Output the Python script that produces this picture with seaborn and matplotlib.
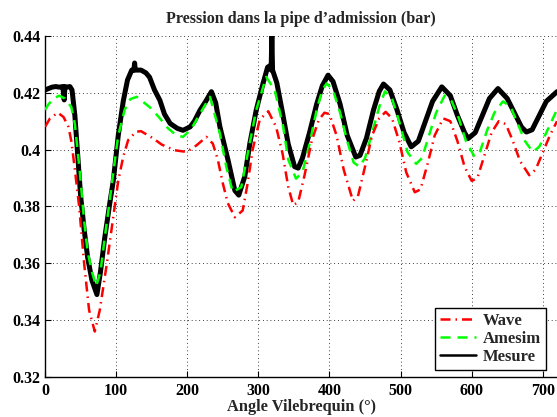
import matplotlib
matplotlib.use("Agg")
import matplotlib.pyplot as plt
import seaborn as sns
import pandas as pd

# ---- data ----
wave_x = [0, 7, 18, 26, 33, 37, 42, 48, 55, 62, 70, 77, 87, 98, 103, 110, 117, 128, 135,
          152, 164, 182, 199, 213, 227, 236, 243, 250, 257, 267, 278, 285, 292, 302, 314,
          325, 334, 342, 349, 356, 365, 375, 385, 393, 400, 410, 420, 433, 440, 450, 460,
          470, 479, 488, 498, 508, 520, 528, 538, 548, 560, 570, 580, 590, 600, 608, 618,
          628, 638, 648, 658, 668, 681, 690, 700, 710, 720]
wave_y = [0.408, 0.411, 0.413, 0.4115, 0.408, 0.403, 0.393, 0.380, 0.360, 0.3435, 0.336,
          0.3435, 0.360, 0.380, 0.389, 0.3975, 0.4034, 0.4063, 0.4065, 0.404, 0.4018,
          0.3998, 0.3992, 0.4015, 0.4045, 0.4021, 0.3965, 0.3882, 0.3812, 0.3762, 0.3786,
          0.3882, 0.400, 0.4106, 0.4135, 0.408, 0.3987, 0.387, 0.3805, 0.3815, 0.391,
          0.403, 0.4105, 0.413, 0.4125, 0.405, 0.393, 0.382, 0.3835, 0.394, 0.405, 0.411,
          0.4133, 0.411, 0.403, 0.392, 0.385, 0.386, 0.395, 0.405, 0.411, 0.410, 0.403,
          0.394, 0.389, 0.390, 0.398, 0.406, 0.410, 0.409, 0.403, 0.396, 0.391, 0.393,
          0.399, 0.405, 0.410]

amesim_x = [0, 5, 12, 20, 28, 37, 42, 49, 55, 60, 66, 72, 78, 84, 91, 96, 103, 112, 120,
            129, 147, 160, 173, 185, 194, 205, 218, 232, 246, 255, 264, 276, 286, 297, 311,
            323, 335, 342, 353, 362, 372, 382, 390, 396, 405, 415, 425, 434, 442, 450, 460,
            470, 478, 488, 498, 510, 522, 530, 540, 550, 562, 572, 582, 592, 604, 612, 622,
            632, 644, 655, 665, 675, 686, 695, 705, 720]
amesim_y = [0.414, 0.416, 0.418, 0.419, 0.418, 0.415, 0.409, 0.392, 0.375, 0.364, 0.357,
            0.352, 0.357, 0.369, 0.382, 0.392, 0.405, 0.414, 0.4178, 0.4186, 0.415, 0.4115,
            0.4075, 0.405, 0.4045, 0.407, 0.4127, 0.4186, 0.4056, 0.3939, 0.3851, 0.3868,
            0.3998, 0.4139, 0.4256, 0.421, 0.408, 0.3965, 0.3898, 0.392, 0.402, 0.414,
            0.421, 0.4233, 0.421, 0.413, 0.403, 0.3955, 0.394, 0.397, 0.406, 0.415, 0.4205,
            0.418, 0.410, 0.399, 0.395, 0.397, 0.405, 0.413, 0.419, 0.417, 0.411, 0.403,
            0.3975, 0.3995, 0.407, 0.413, 0.417, 0.415, 0.409, 0.403, 0.3992, 0.401,
            0.406, 0.4141]

mesure_x = [0, 5, 10, 15, 20, 25, 27, 28, 30, 35, 38, 42, 46, 50, 55, 60, 66, 73, 78, 84,
            91, 96, 103, 110, 116, 122, 125, 126, 127, 135, 142, 147, 154, 161.5, 168, 176,
            186, 194, 204, 210, 218, 226, 234, 240, 246, 257.5, 267, 272.5, 281, 288, 297,
            306.6, 313, 316, 318, 319, 320, 326, 334, 342, 351, 356, 362, 372, 382, 390,
            398, 405, 415, 425, 437, 443, 452, 462, 470, 476, 485, 495, 505, 515, 525, 535,
            545, 558, 570, 580, 590, 595, 605, 615, 625, 637, 650, 660, 670, 677, 685, 695,
            705, 720]
mesure_y = [0.421, 0.4215, 0.422, 0.4222, 0.422, 0.4222, 0.4175, 0.4222, 0.422, 0.4222,
            0.421, 0.412, 0.398, 0.384, 0.372, 0.362, 0.354, 0.349, 0.357, 0.369, 0.381,
            0.389, 0.405, 0.417, 0.4245, 0.428, 0.428, 0.4305, 0.428, 0.428, 0.427, 0.4255,
            0.421, 0.4174, 0.4125, 0.4092, 0.4075, 0.4068, 0.408, 0.410, 0.4139, 0.417,
            0.4204, 0.4165, 0.408, 0.3962, 0.3856, 0.384, 0.3906, 0.4021, 0.4139, 0.4233,
            0.429, 0.4295, 0.428, 0.4405, 0.428, 0.4235, 0.413, 0.402, 0.394, 0.3935, 0.397,
            0.406, 0.416, 0.4225, 0.4262, 0.424, 0.416, 0.405, 0.3974, 0.398, 0.404, 0.414,
            0.4205, 0.4231, 0.421, 0.414, 0.406, 0.401, 0.403, 0.410, 0.417, 0.4221, 0.419,
            0.412, 0.406, 0.4039, 0.406, 0.412, 0.418, 0.4215, 0.418, 0.413, 0.408, 0.4062,
            0.407, 0.412, 0.417, 0.4204]

series_names = ["Wave", "Amesim", "Mesure"]
x_ticks = [0, 100, 200, 300, 400, 500, 600, 700]
y_ticks = [0.32, 0.34, 0.36, 0.38, 0.40, 0.42, 0.44]
y_tick_labels = ["0.32", "0.34", "0.36", "0.38", "0.4", "0.42", "0.44"]
title = "Pression dans la pipe d\u2019admission (bar)"
xlabel = "Angle Vilebrequin (\u00b0)"

# ---- plot ----
sns.set_theme(style="white")
plt.rcParams["font.family"] = ["Liberation Serif", "DejaVu Serif"]
plt.rcParams["font.weight"] = "bold"

fig = plt.figure(figsize=(5.57, 4.17), dpi=100)
ax = fig.add_axes([0.0808, 0.096, 0.9192, 0.8177])

df_m = pd.DataFrame({"x": mesure_x, "y": mesure_y})
df_a = pd.DataFrame({"x": amesim_x, "y": amesim_y})
df_w = pd.DataFrame({"x": wave_x, "y": wave_y})

sns.lineplot(data=df_m, x="x", y="y", ax=ax, color="black", lw=3.6,
             sort=False, estimator=None, label=series_names[2], zorder=2)
sns.lineplot(data=df_a, x="x", y="y", ax=ax, color=(0, 1, 0), lw=1.8,
             sort=False, estimator=None, label=series_names[1], zorder=3,
             dashes=(4, 2.8))
sns.lineplot(data=df_w, x="x", y="y", ax=ax, color=(1, 0, 0), lw=1.8,
             sort=False, estimator=None, label=series_names[0], zorder=4,
             dashes=(4, 2, 0.6, 2))

ax.set_xlim(0, 720)
ax.set_ylim(0.32, 0.44)
ax.set_xticks(x_ticks)
ax.set_yticks(y_ticks)
ax.set_yticklabels(y_tick_labels)
ax.grid(True, color="black", linestyle=(0, (1, 3.5)), linewidth=0.6)
ax.tick_params(direction="in", length=4, width=0.8, colors="black",
               labelsize=11.5, left=True, bottom=True)
ax.tick_params(axis="x", pad=4)
ax.tick_params(axis="y", pad=3)
for lab in ax.get_xticklabels() + ax.get_yticklabels():
    lab.set_fontweight("bold")
for side in ["top", "right"]:
    ax.spines[side].set_visible(False)
for side in ["left", "bottom"]:
    ax.spines[side].set_color("black")
    ax.spines[side].set_linewidth(1.0)

ax.set_title(title, fontsize=11.6, fontweight="bold", pad=9)
ax.set_xlabel(xlabel, fontsize=11.8, fontweight="bold", labelpad=0)
ax.set_ylabel("")

handles, labels = ax.get_legend_handles_labels()
order = [labels.index(n) for n in series_names]
leg = ax.legend([handles[i] for i in order], [labels[i] for i in order],
                loc="lower right", bbox_to_anchor=(0.9785, 0.02),
                frameon=True, fancybox=False, framealpha=1, edgecolor="black",
                prop={"size": 12, "weight": "bold"}, handlelength=2.2,
                borderpad=0.3, labelspacing=0.12, handletextpad=0.4,
                borderaxespad=0.0)
leg.get_frame().set_linewidth(1.0)
for h in leg.get_lines():
    h.set_linewidth(1.8)

fig.savefig("out.png", dpi=100)
